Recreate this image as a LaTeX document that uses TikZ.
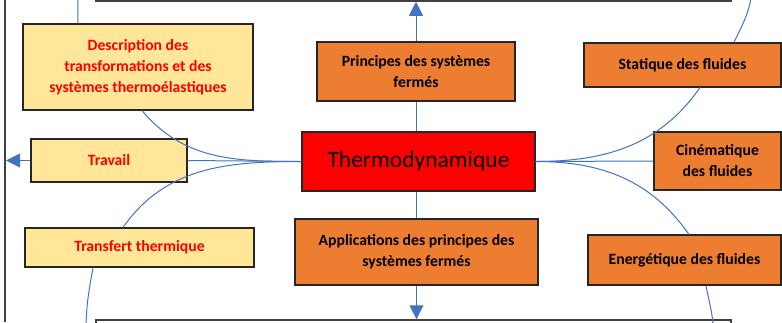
\documentclass[tikz,border=0pt]{standalone}
\usepackage{fontspec}
\setmainfont{Carlito}
\usepackage{xcolor}
\usetikzlibrary{positioning,arrows.meta,calc}
\definecolor{boxorange}{HTML}{ED7D31}
\definecolor{boxyellow}{HTML}{FFE699}
\definecolor{linkblue}{HTML}{4472C4}
\definecolor{framegrey}{HTML}{404040}
\tikzset{
topic/.style={
draw=black!85,
line width=1.1pt,
inner sep=0pt,
align=center,
fill=boxorange,
font=\fontsize{15.7}{21}\selectfont\bfseries
},
subtopic/.style={
topic,
fill=boxyellow,
text=red
},
mainbox/.style={
draw=black!85,
line width=1.1pt,
inner sep=0pt,
align=center,
fill=red,
font=\fontsize{23.5}{28}\selectfont
},
frame/.style={
draw=framegrey,
line width=1.5pt,
fill=white
},
link/.style={
draw=linkblue,
line width=1pt
},
arrow/.style={
link,
-{Triangle[width=14pt,length=14pt]}
}
}

\begin{document}
\begin{tikzpicture}[x=1pt,y=1pt]
\useasboundingbox (0,0) rectangle (782,-322);
\clip (0,0) rectangle (782,-322);

% page frame
\draw[framegrey,line width=1.5pt] (5,0) -- (5,-322);
\node[frame,minimum width=635pt,minimum height=40pt](toprect) at (413.5,19) {};
\node[frame,minimum width=635pt,minimum height=40pt](botrect) at (413.5,-340) {};
\coordinate (lframe) at (6,-160);
\coordinate (dtop) at (78,2);
\coordinate (tbot) at (86,-324);
\coordinate (stop) at (751,2);
\coordinate (ebot) at (713,-324);

% boxes
\node[mainbox,minimum width=233pt,minimum height=59pt](thermo) at (418.5,-161.5){Thermodynamique};
\node[topic,minimum width=198pt,minimum height=59pt](princ) at (416,-71.5){Principes des systèmes\\fermés};
\node[topic,minimum width=243pt,minimum height=66pt](appl) at (416.5,-252){Applications des principes des\\systèmes fermés};
\node[topic,minimum width=197pt,minimum height=44pt](stat) at (682.5,-65){Statique des fluides};
\node[topic,minimum width=127pt,minimum height=58pt](cine) at (717.5,-161){Cinématique\\des fluides};
\node[topic,minimum width=193pt,minimum height=50pt](ener) at (684.5,-260){Energétique des fluides};
\node[subtopic,minimum width=230pt,minimum height=86pt](desc) at (138,-67){Description des\\transformations et des\\systèmes thermoélastiques};
\node[subtopic,minimum width=156pt,minimum height=43pt](trav) at (109,-160.5){Travail};
\node[subtopic,minimum width=229pt,minimum height=39pt](transf) at (139.5,-247.5){Transfert thermique};

% connectors
\draw[link](princ.south)--(princ.south |- thermo.north);
\draw[arrow](princ.north)--(princ.north |- toprect.south);
\draw[link](appl.north)--(appl.north |- thermo.south);
\draw[arrow](appl.south)--(appl.south |- botrect.north);

\draw[link](thermo.west)--(trav.east);
\draw[arrow](trav.west)--(trav.west -| lframe);
\draw[link](thermo.west) to[out=180,in=-50] ([xshift=4pt]desc.south);
\draw[link]([xshift=-60pt]desc.north) to[out=92,in=-90] (dtop);
\draw[link](thermo.west) to[out=180,in=55] ([xshift=-16.5pt]transf.north);
\draw[link]([xshift=-46.5pt]transf.south) to[out=-100,in=88] (tbot);

\draw[link](thermo.east)--(cine.west);
\draw[link](thermo.east) to[out=0,in=-125] ([xshift=17.5pt]stat.south);
\draw[link]([xshift=51.5pt]stat.north) to[out=65,in=-100] (stop);
\draw[link](thermo.east) to[out=0,in=125] ([xshift=4.5pt]ener.north);
\draw[link]([xshift=21.5pt]ener.south) to[out=-80,in=95] (ebot);
\end{tikzpicture}
\end{document}
